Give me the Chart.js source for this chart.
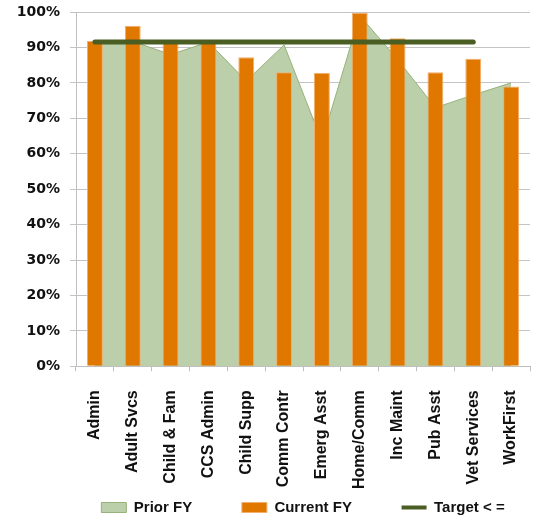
<!DOCTYPE html>
<html>
<head>
<meta charset="utf-8">
<script src="https://cdn.jsdelivr.net/npm/chart.js@4.4.1/dist/chart.umd.min.js"></script>
<style>
  body { margin: 0; background: #fff; }
  #wrap { width: 536px; height: 516px; position: relative; }
</style>
</head>
<body>
<div id="wrap"><canvas id="grafico"></canvas></div>
<script>
// datos
var categorias = ['Admin', 'Adult Svcs', 'Child & Fam', 'CCS Admin', 'Child Supp', 'Comm Contr',
    'Emerg Asst', 'Home/Comm', 'Inc Maint', 'Pub Asst', 'Vet Services', 'WorkFirst'];
var priorFY = [91.5, 91.7, 88, 91.5, 80.5, 90.7, 63.5, 99, 86.6, 73, 76.6, 80];
var currentFY = [91.8, 96.1, 91.5, 91.5, 87.2, 83, 82.8, 99.7, 92.6, 83, 86.8, 79];
var target = [91.5, 91.5, 91.5, 91.5, 91.5, 91.5, 91.5, 91.5, 91.5, 91.5, 91.5, null];
var ticksY = [0, 10, 20, 30, 40, 50, 60, 70, 80, 90, 100];

var fuente = "'Liberation Sans', Arial, sans-serif";
var espacio = '\u00a0\u00a0\u00a0\u00a0\u00a0\u00a0\u00a0\u00a0\u00a0\u00a0';

const datos = {
    labels: categorias,
    datasets: [{
        type: 'line',
        label: 'Prior FY',
        data: priorFY,
        backgroundColor: '#BBCFAB',
        borderColor: '#97B27A',
        borderWidth: 1,
        pointRadius: 0,
        tension: 0,
        fill: 'origin',
        order: 3
    }, {
        type: 'bar',
        label: 'Current FY',
        data: currentFY,
        backgroundColor: '#E07800',
        borderColor: '#F2AE6A',
        borderWidth: 1,
        barPercentage: 0.42,
        categoryPercentage: 1,
        order: 2
    }, {
        type: 'line',
        label: 'Target < =',
        data: target,
        borderColor: '#4A5E23',
        backgroundColor: '#4A5E23',
        borderWidth: 5,
        borderCapStyle: 'round',
        pointRadius: 0,
        fill: false,
        order: 1
    }]
};

const configuracion = {
    type: 'bar',
    data: datos,
    options: {
        responsive: true,
        maintainAspectRatio: false,
        animation: false,
        layout: { padding: { left: 0, right: 6, top: 12, bottom: -9 } },
        plugins: {
            tooltip: { enabled: false },
            legend: {
                position: 'bottom',
                fullSize: false,
                labels: {
                    usePointStyle: true,
                    pointStyleWidth: 25,
                    boxHeight: 10,
                    padding: 8,
                    color: '#111',
                    font: { family: fuente, size: 15, weight: 'bold' },
                    sort: function (a, b) { return a.datasetIndex - b.datasetIndex; },
                    generateLabels: function (chart) {
                        var items = Chart.defaults.plugins.legend.labels.generateLabels(chart);
                        items.forEach(function (it) {
                            if (it.datasetIndex === 2) {
                                it.pointStyle = 'line';
                                it.lineWidth = 4;
                                it.strokeStyle = '#4A5E23';
                            } else {
                                it.pointStyle = 'rect';
                                it.lineWidth = 1;
                                it.text = it.text + espacio;
                            }
                        });
                        return items;
                    }
                }
            }
        },
        scales: {
            x: {
                afterFit: function (scale) {
                    scale.paddingRight = 0;
                    scale.paddingLeft = 0;
                    scale.height = scale.height - 16;
                },
                grid: { drawOnChartArea: false, drawTicks: true, tickLength: 5, color: '#BFBFBF', offset: true },
                border: { color: '#BFBFBF' },
                ticks: {
                    minRotation: 90,
                    maxRotation: 90,
                    color: '#111',
                    padding: 19,
                    font: { family: fuente, size: 16, weight: 'bold' }
                }
            },
            y: {
                min: 0,
                max: 100,
                afterFit: function (scale) {
                    scale.width = 76;
                    scale.paddingTop = 0;
                    scale.paddingBottom = 0;
                },
                afterBuildTicks: function (scale) {
                    scale.ticks = ticksY.map(function (v) { return { value: v }; });
                },
                grid: { color: '#C4C4C4', tickLength: 6 },
                border: { color: '#BFBFBF' },
                ticks: {
                    color: '#111',
                    padding: 10,
                    font: { family: "'DejaVu Sans', sans-serif", size: 14, weight: 'bold' },
                    callback: function (v) { return v + '%'; }
                }
            }
        }
    }
};

const ctx = document.getElementById('grafico').getContext('2d');
var miGrafico = new Chart(ctx, configuracion);
</script>
</body>
</html>
